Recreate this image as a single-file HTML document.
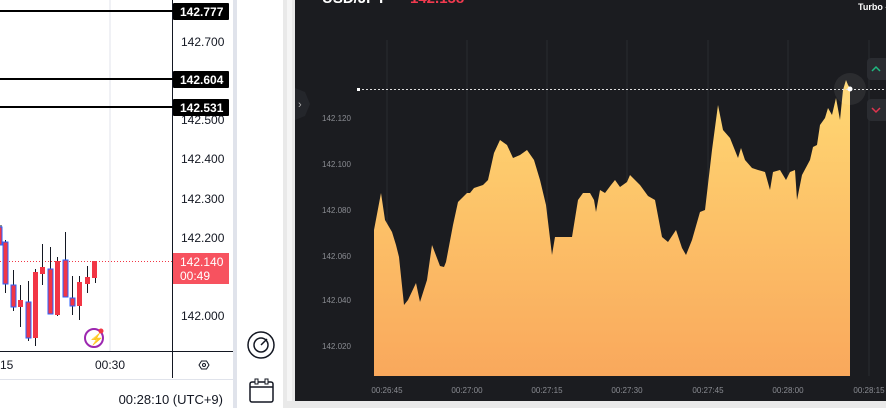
<!DOCTYPE html>
<html><head><meta charset="utf-8"><style>
body{margin:0;width:886px;height:408px;overflow:hidden;background:#fff;font-family:"Liberation Sans",sans-serif;position:relative}
.a{position:absolute}
</style></head><body>
<svg class="a" style="left:0;top:0" width="886" height="408" xmlns="http://www.w3.org/2000/svg">
<defs><linearGradient id="g" x1="0" y1="0" x2="0" y2="1"><stop offset="0" stop-color="#ffd873"/><stop offset="1" stop-color="#f9a85c"/></linearGradient></defs>
<!-- left panel -->
<rect x="0" y="0" width="235" height="408" fill="#fff"/>
<line x1="110" y1="0" x2="110" y2="351" stroke="#e0e3eb"/>
<line x1="172.5" y1="0" x2="172.5" y2="378" stroke="#131722"/>
<line x1="0" y1="351.5" x2="235" y2="351.5" stroke="#131722"/>
<line x1="0" y1="379.5" x2="235" y2="379.5" stroke="#e0e3eb"/>
<rect x="233" y="0" width="4" height="408" fill="#e0e3eb"/>
<g stroke="#000" stroke-width="2"><line x1="0" y1="11" x2="173" y2="11"/><line x1="0" y1="79" x2="173" y2="79"/><line x1="0" y1="107" x2="173" y2="107"/></g>
<g font-size="12" fill="#131722"><text x="181" y="46">142.700</text><text x="181" y="124">142.500</text><text x="181" y="163">142.400</text><text x="181" y="203">142.300</text><text x="181" y="242">142.200</text><text x="181" y="320">142.000</text></g>
<rect x="173" y="3" width="56" height="17" fill="#000" rx="1"/><text x="180" y="16" font-size="12" font-weight="bold" fill="#fff">142.777</text>
<rect x="173" y="71" width="56" height="17" fill="#000" rx="1"/><text x="180" y="84" font-size="12" font-weight="bold" fill="#fff">142.604</text>
<rect x="173" y="99" width="56" height="17" fill="#000" rx="1"/><text x="180" y="112" font-size="12" font-weight="bold" fill="#fff">142.531</text>
<line x1="0" y1="261.5" x2="173" y2="261.5" stroke="#f23645" stroke-dasharray="1,2"/>
<rect x="173" y="253" width="56" height="31" fill="#f7525f"/>
<text x="180" y="266" font-size="12" fill="#fff">142.140</text><text x="180" y="280" font-size="12" fill="#fff">00:49</text>
<g stroke="#131722" stroke-width="1">
<line x1="1" y1="225" x2="1" y2="245"/><line x1="5.5" y1="240" x2="5.5" y2="293"/><line x1="13.5" y1="270" x2="13.5" y2="311"/><line x1="20.5" y1="285" x2="20.5" y2="327"/><line x1="28.5" y1="281" x2="28.5" y2="341"/><line x1="35.5" y1="269" x2="35.5" y2="346"/><line x1="42.5" y1="244" x2="42.5" y2="285"/><line x1="50.5" y1="247" x2="50.5" y2="314"/><line x1="57.5" y1="257" x2="57.5" y2="316"/><line x1="65.5" y1="232" x2="65.5" y2="297"/><line x1="72.5" y1="276" x2="72.5" y2="315"/><line x1="79.5" y1="276" x2="79.5" y2="320"/><line x1="87.5" y1="266" x2="87.5" y2="293"/><line x1="95.5" y1="261" x2="95.5" y2="283"/>
</g>
<g fill="#f23645">
<rect x="-2" y="227" width="4" height="18" stroke="#2962ff"/>
<rect x="3" y="242" width="5" height="42" stroke="#2962ff"/>
<rect x="11" y="285" width="5" height="22" stroke="#2962ff"/>
<rect x="18" y="300" width="5" height="7"/>
<rect x="26" y="302" width="5" height="36" stroke="#2962ff"/>
<rect x="33" y="272" width="5" height="66"/>
<rect x="40" y="267" width="5" height="7"/>
<rect x="48" y="269" width="5" height="45" stroke="#2962ff"/>
<rect x="55" y="261" width="5" height="54"/>
<rect x="63" y="260" width="5" height="37" stroke="#2962ff"/>
<rect x="70" y="298" width="5" height="8" stroke="#2962ff"/>
<rect x="77" y="282" width="5" height="24"/>
<rect x="85" y="277" width="5" height="7"/>
<rect x="92" y="261" width="5" height="17"/>
</g>
<circle cx="94" cy="338" r="9" fill="none" stroke="#9c27b0" stroke-width="2"/><text x="89" y="343" font-size="12" fill="#9c27b0">⚡</text><circle cx="101" cy="331" r="2.5" fill="#f23645"/>
<text x="0" y="369" font-size="12" fill="#131722">15</text><text x="95" y="369" font-size="12" fill="#131722">00:30</text>
<polygon points="199,365 201.5,361 206.5,361 209,365 206.5,369 201.5,369" fill="none" stroke="#131722"/><circle cx="204" cy="365" r="1.5" fill="none" stroke="#131722"/>
<text x="223" y="404" font-size="13" fill="#131722" text-anchor="end">00:28:10 (UTC+9)</text>
<!-- icons -->
<circle cx="261" cy="345" r="13" fill="none" stroke="#131722" stroke-width="1.5"/><circle cx="261" cy="345" r="7" fill="none" stroke="#131722" stroke-width="1.5"/><line x1="261" y1="345" x2="267" y2="339" stroke="#131722" stroke-width="1.5"/>
<rect x="250" y="382" width="23" height="20" rx="2" fill="none" stroke="#131722" stroke-width="1.5"/><line x1="250" y1="387" x2="273" y2="387" stroke="#131722" stroke-width="1.5"/>
<rect x="255" y="379" width="3" height="5" fill="#fff" stroke="#131722"/><rect x="265" y="379" width="3" height="5" fill="#fff" stroke="#131722"/>
<rect x="283" y="0" width="12" height="408" fill="#e9e9e9"/><rect x="287" y="0" width="5" height="408" fill="#f5f5f5"/>
<!-- dark panel -->
<rect x="295" y="0" width="591" height="401" fill="#1b1c20"/>
<rect x="283" y="401" width="603" height="7" fill="#e9e9e9"/>
<text x="322" y="3" font-size="15" font-weight="bold" fill="#fff">USD/JPY</text><text x="410" y="3" font-size="15" font-weight="bold" fill="#f23a4f">142.158</text>
<text x="858" y="10" font-size="9" font-weight="bold" fill="#fff">Turbo -</text>
<path d="M295,88 L305,92 L310,104 L305,116 L295,120Z" fill="#24262b"/><text x="298" y="108" font-size="11" fill="#aaa">›</text>
<g stroke="#2a2c31"><line x1="387" y1="40" x2="387" y2="376"/><line x1="467" y1="40" x2="467" y2="376"/><line x1="547" y1="40" x2="547" y2="376"/><line x1="627" y1="40" x2="627" y2="376"/><line x1="708" y1="40" x2="708" y2="376"/><line x1="788" y1="40" x2="788" y2="376"/><line x1="869" y1="40" x2="869" y2="376"/></g>
<g font-size="8" fill="#8a8c92"><text x="322" y="121">142.120</text><text x="322" y="167">142.100</text><text x="322" y="213">142.080</text><text x="322" y="259">142.060</text><text x="322" y="303">142.040</text><text x="322" y="349">142.020</text></g>
<g font-size="8" fill="#8a8c92" text-anchor="middle"><text x="387" y="393">00:26:45</text><text x="467" y="393">00:27:00</text><text x="547" y="393">00:27:15</text><text x="627" y="393">00:27:30</text><text x="708" y="393">00:27:45</text><text x="788" y="393">00:28:00</text><text x="869" y="393">00:28:15</text></g>
<polygon fill="url(#g)" points="374,376 374,230 381,193 385,220 392,232 396,245 399,257 404,305 408,300 416,283 420,302 427,280 432,245 440,266 444,267 446,262 453,225 458,202 462,198 467,193 470,193 474,188 483,185 488,180 494,153 500,140 507,145 513,158 520,155 527,150 534,160 540,180 546,205 552,255 555,237 560,237 572,237 578,200 583,193 590,193 594,200 596,212 600,190 605,193 611,185 615,180 620,187 627,182 630,175 640,185 648,196 655,200 662,237 668,242 676,230 682,248 686,255 692,240 700,212 705,210 712,150 718,105 723,130 730,138 738,158 741,148 745,160 752,168 758,170 765,172 770,190 773,172 780,170 786,180 790,172 795,170 797,200 802,175 810,160 813,147 817,145 820,125 825,118 828,108 832,115 836,98 840,120 843,90 846,80 848,85 850,88 850,376"/>
<line x1="358" y1="89.5" x2="886" y2="89.5" stroke="#ddd" stroke-dasharray="2,2"/><rect x="357" y="88" width="3" height="3" fill="#fff"/>
<circle cx="850" cy="89" r="16" fill="#fff" fill-opacity="0.07"/><circle cx="850" cy="89" r="2.5" fill="#fff"/>
<rect x="867" y="58" width="22" height="22" rx="4" fill="#2a2c31"/><path d="M872,71 L876,67 L880,71" fill="none" stroke="#1fb981" stroke-width="1.5"/>
<rect x="867" y="99" width="22" height="22" rx="4" fill="#2a2c31"/><path d="M872,108 L876,112 L880,108" fill="none" stroke="#e0344e" stroke-width="1.5"/>
</svg>
</body></html>
